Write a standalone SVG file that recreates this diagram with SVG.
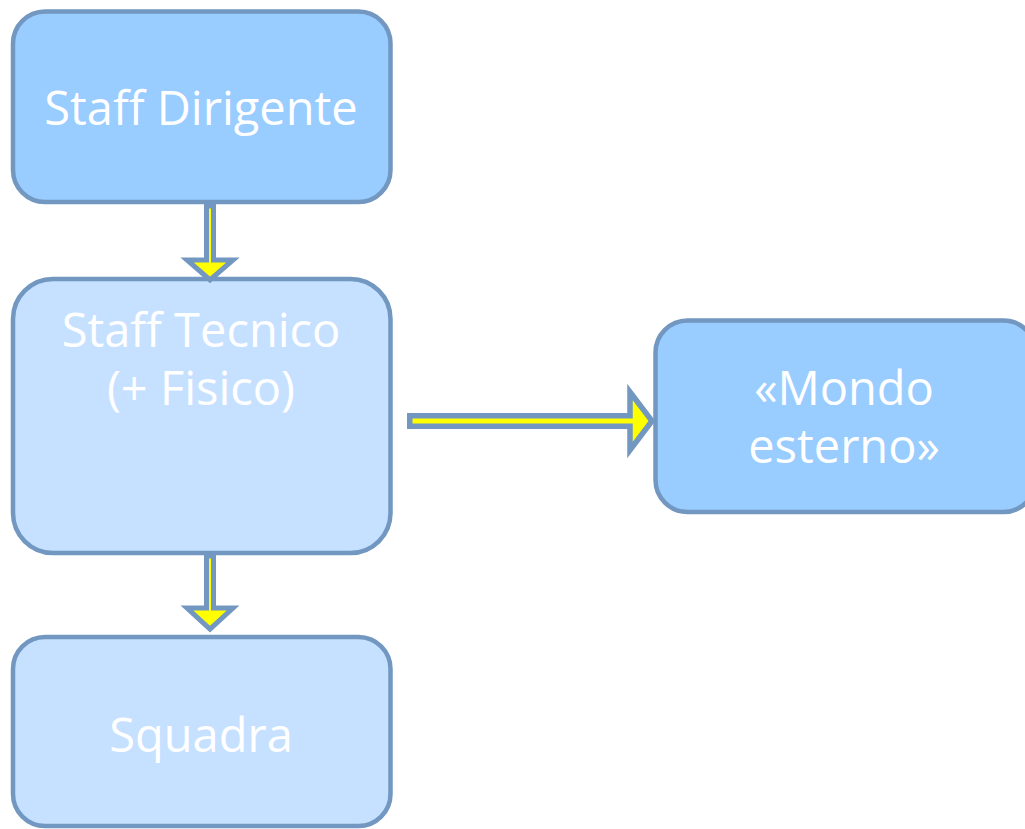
<svg xmlns="http://www.w3.org/2000/svg" width="1025" height="829" viewBox="0 0 1025 829">
<style>
.box{stroke:#7297C0;stroke-width:4.5}
.dark{fill:#99CCFF}
.light{fill:#C6E1FF}
.lbl{font-family:"Open Sans","DejaVu Sans",sans-serif;font-size:47px;fill:#FFFFFF;text-anchor:middle}
.arr{fill:#FFFF00;stroke:#7297C0;stroke-linejoin:miter}
</style>
<rect width="1025" height="829" fill="#FFFFFF"/>
<g id="staff-dirigente">
<rect class="box dark" x="13" y="11.5" width="377.5" height="190.5" rx="32"/>
<text class="lbl" x="201" y="125">Staff Dirigente</text>
</g>
<g id="staff-tecnico">
<rect class="box light" x="13" y="279" width="377.5" height="274" rx="40"/>
<text class="lbl" x="201" y="347">Staff Tecnico</text>
<text class="lbl" x="201" y="405">(+ Fisico)</text>
</g>
<g id="squadra">
<rect class="box light" x="13" y="637" width="377.5" height="189" rx="32"/>
<text class="lbl" x="201" y="752">Squadra</text>
</g>
<g id="mondo-esterno">
<rect class="box dark" x="655.5" y="320.5" width="380" height="191.5" rx="32"/>
<text class="lbl" x="844" y="405">«Mondo</text>
<text class="lbl" x="844" y="463">esterno»</text>
</g>
<g id="connectors">
<path class="arr" stroke-width="5" d="M206.5,206 L213.5,206 L213.5,260 L233,260 L210,280 L187,260 L206.5,260 Z"/>
<path class="arr" stroke-width="5" d="M206.5,556 L213.5,556 L213.5,608 L233,608 L210,629 L187,608 L206.5,608 Z"/>
<path class="arr" stroke-width="5.5" d="M409.75,415.75 L630,415.75 L630,392 L652,421 L630,450 L630,426.25 L409.75,426.25 Z"/>
</g>
</svg>
